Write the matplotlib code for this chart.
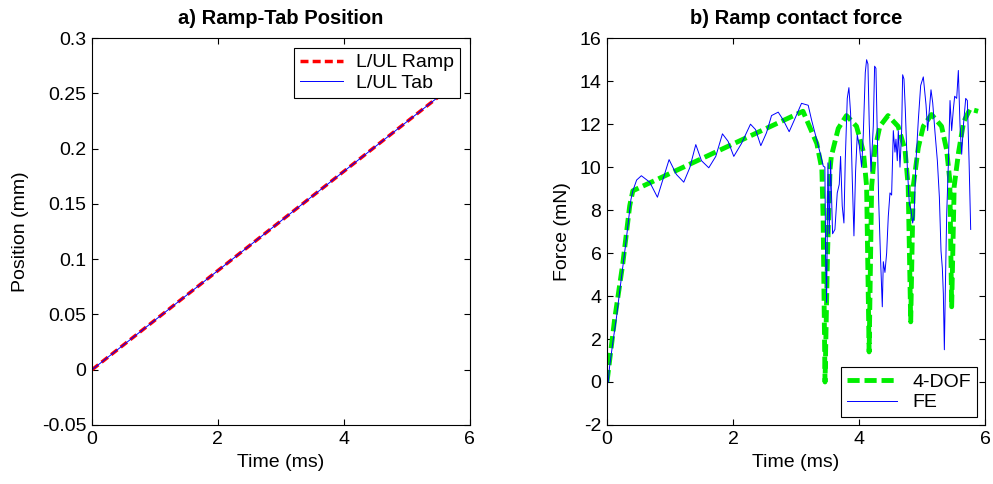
import numpy as np
import matplotlib.pyplot as plt

plt.rcParams['font.family'] = ['Liberation Sans', 'DejaVu Sans']
plt.rcParams['axes.unicode_minus'] = False

# a) ramp / tab position
pos_time = [0.0, 5.75]
ramp_pos = [0.0, 0.258]
tab_pos = [0.0, 0.258]

# b) ramp contact force, 4-DOF model
dof_time = [0.0, 0.12, 0.25, 0.36, 0.41, 3.11, 3.33, 3.41, 3.43, 3.46, 3.50, 3.54,
            3.56, 3.67, 3.80, 3.96, 4.07, 4.12, 4.16, 4.20, 4.25, 4.33, 4.46, 4.62,
            4.73, 4.78, 4.82, 4.86, 4.94, 5.02, 5.15, 5.31, 5.39, 5.44, 5.47, 5.51,
            5.58, 5.66, 5.76, 5.89]
dof_force = [0.0, 2.9, 5.5, 8.2, 8.9, 12.6, 11.1, 9.9, 7.6, 0.0, 6.0, 9.9,
             10.5, 11.8, 12.4, 11.9, 10.7, 9.1, 1.4, 9.1, 10.8, 11.9, 12.4, 11.9,
             10.8, 9.1, 2.8, 9.1, 10.9, 11.9, 12.45, 11.9, 10.8, 9.4, 3.5, 9.1,
             10.7, 12.1, 12.7, 12.6]

# b) ramp contact force, FE model
fe_time = [0.0, 0.02, 0.04, 0.10, 0.15, 0.20, 0.30, 0.38, 0.41, 0.47,
           0.545, 0.678, 0.800, 0.985, 1.101, 1.218, 1.313, 1.409, 1.499, 1.615,
           1.726, 1.832, 1.922, 2.012, 2.134, 2.277, 2.357, 2.441, 2.531, 2.611,
           2.717, 2.796, 2.891, 2.965, 3.087, 3.193, 3.246, 3.379, 3.432,
           3.458, 3.469, 3.485, 3.506, 3.527, 3.548, 3.580, 3.617, 3.654, 3.686,
           3.707, 3.733, 3.760, 3.781, 3.813, 3.839, 3.866, 3.892, 3.919, 3.945,
           3.972, 4.004, 4.041, 4.067, 4.099, 4.120, 4.141, 4.162, 4.189, 4.226,
           4.247, 4.268, 4.290, 4.311, 4.342, 4.369, 4.385, 4.411, 4.438, 4.464,
           4.491, 4.517, 4.544, 4.570, 4.586, 4.607, 4.623, 4.650, 4.676, 4.692,
           4.713, 4.734, 4.766, 4.798, 4.824, 4.851, 4.872, 4.904, 4.941, 4.978,
           5.020, 5.063, 5.089, 5.116, 5.142, 5.169, 5.206, 5.243, 5.275, 5.301,
           5.322, 5.338, 5.354, 5.370, 5.391, 5.418, 5.444, 5.470, 5.497, 5.518,
           5.550, 5.576, 5.603, 5.629, 5.655, 5.693, 5.719, 5.746, 5.772]
fe_force = [0.0, 0.0, 0.7, 2.0, 3.0, 4.2, 6.5, 8.5, 8.9, 9.4,
            9.6, 9.3, 8.6, 10.35, 9.66, 9.3, 9.97, 11.05, 10.3, 9.97,
            10.5, 11.55, 11.2, 10.5, 11.1, 12.0, 11.75, 11.0, 11.6, 12.4,
            12.56, 12.2, 11.65, 12.14, 12.97, 12.88, 12.2, 10.7, 10.05,
            10.0, 6.0, 3.7, 10.2, 6.9, 10.3, 6.9, 7.1, 8.8, 9.2,
            10.5, 8.2, 7.4, 10.3, 13.2, 13.7, 12.5, 9.5, 6.8, 9.8,
            11.5, 11.0, 10.0, 11.5, 14.4, 15.0, 14.8, 12.0, 9.8, 11.9,
            14.7, 14.6, 11.6, 8.5, 5.7, 3.5, 5.6, 5.1, 6.0, 7.7,
            8.8, 8.7, 11.7, 10.7, 11.3, 10.3, 11.7, 10.0, 11.7, 14.3,
            14.1, 12.7, 10.0, 8.3, 8.0, 7.4, 7.7, 10.3, 12.2, 13.8,
            14.2, 12.9, 11.7, 12.7, 13.6, 13.0, 11.6, 10.3, 8.6, 6.1,
            5.3, 4.1, 1.5, 4.4, 7.8, 10.2, 13.1, 11.7, 12.7, 13.3,
            13.2, 14.5, 11.9, 10.6, 11.9, 13.2, 13.1, 10.3, 7.1]

fs = 14

fig = plt.figure(figsize=(9.93, 4.84), dpi=100)
ax1 = fig.add_axes([0.0927, 0.122, 0.3803, 0.799])
ax2 = fig.add_axes([0.6113, 0.122, 0.3807, 0.799])

ax1.plot(pos_time, ramp_pos, color='red', linestyle='--', linewidth=2.5,
         dashes=(2.3, 1.2), label='L/UL Ramp')
ax1.plot(pos_time, tab_pos, color='blue', linewidth=0.7, label='L/UL Tab')
ax1.set_xlim(0, 6)
ax1.set_ylim(-0.05, 0.3)
ax1.set_xticks([0, 2, 4, 6])
ax1.set_yticks([-0.05, 0, 0.05, 0.1, 0.15, 0.2, 0.25, 0.3])
ax1.set_yticklabels(['-0.05', '0', '0.05', '0.1', '0.15', '0.2', '0.25', '0.3'])
ax1.set_title('a) Ramp-Tab Position', fontsize=fs + 0.5, fontweight='bold', pad=10)
ax1.set_xlabel('Time (ms)', fontsize=fs, labelpad=5)
ax1.set_ylabel('Position (mm)', fontsize=fs, labelpad=9)
leg1 = ax1.legend(loc='upper right', fontsize=fs, fancybox=False, framealpha=1,
                  edgecolor='black', borderaxespad=0.5, handlelength=2.2,
                  borderpad=0.3, labelspacing=0.15, handletextpad=0.7)
leg1.get_frame().set_linewidth(0.8)

ax2.plot(dof_time, dof_force, color='#00ee00', linestyle='--', linewidth=3.5,
         dashes=(2.5, 1.0), label='4-DOF')
ax2.plot(fe_time, fe_force, color='blue', linewidth=0.7, label='FE')
ax2.set_xlim(0, 6)
ax2.set_ylim(-2, 16)
ax2.set_xticks([0, 2, 4, 6])
ax2.set_yticks(np.arange(-2, 17, 2))
ax2.set_title('b) Ramp contact force', fontsize=fs + 0.5, fontweight='bold', pad=10)
ax2.set_xlabel('Time (ms)', fontsize=fs, labelpad=5)
ax2.set_ylabel('Force (mN)', fontsize=fs, labelpad=6)
leg2 = ax2.legend(loc='lower right', fontsize=fs, fancybox=False, framealpha=1,
                  edgecolor='black', borderaxespad=0.4, handlelength=2.6,
                  borderpad=0.3, labelspacing=0.15, handletextpad=0.8)
leg2.get_frame().set_linewidth(0.8)

for ax in (ax1, ax2):
    ax.tick_params(direction='in', top=True, right=True, labelsize=fs, length=4,
                   width=0.8, pad=4)
    for sp in ax.spines.values():
        sp.set_linewidth(0.8)

fig.savefig('out.png', dpi=100)
